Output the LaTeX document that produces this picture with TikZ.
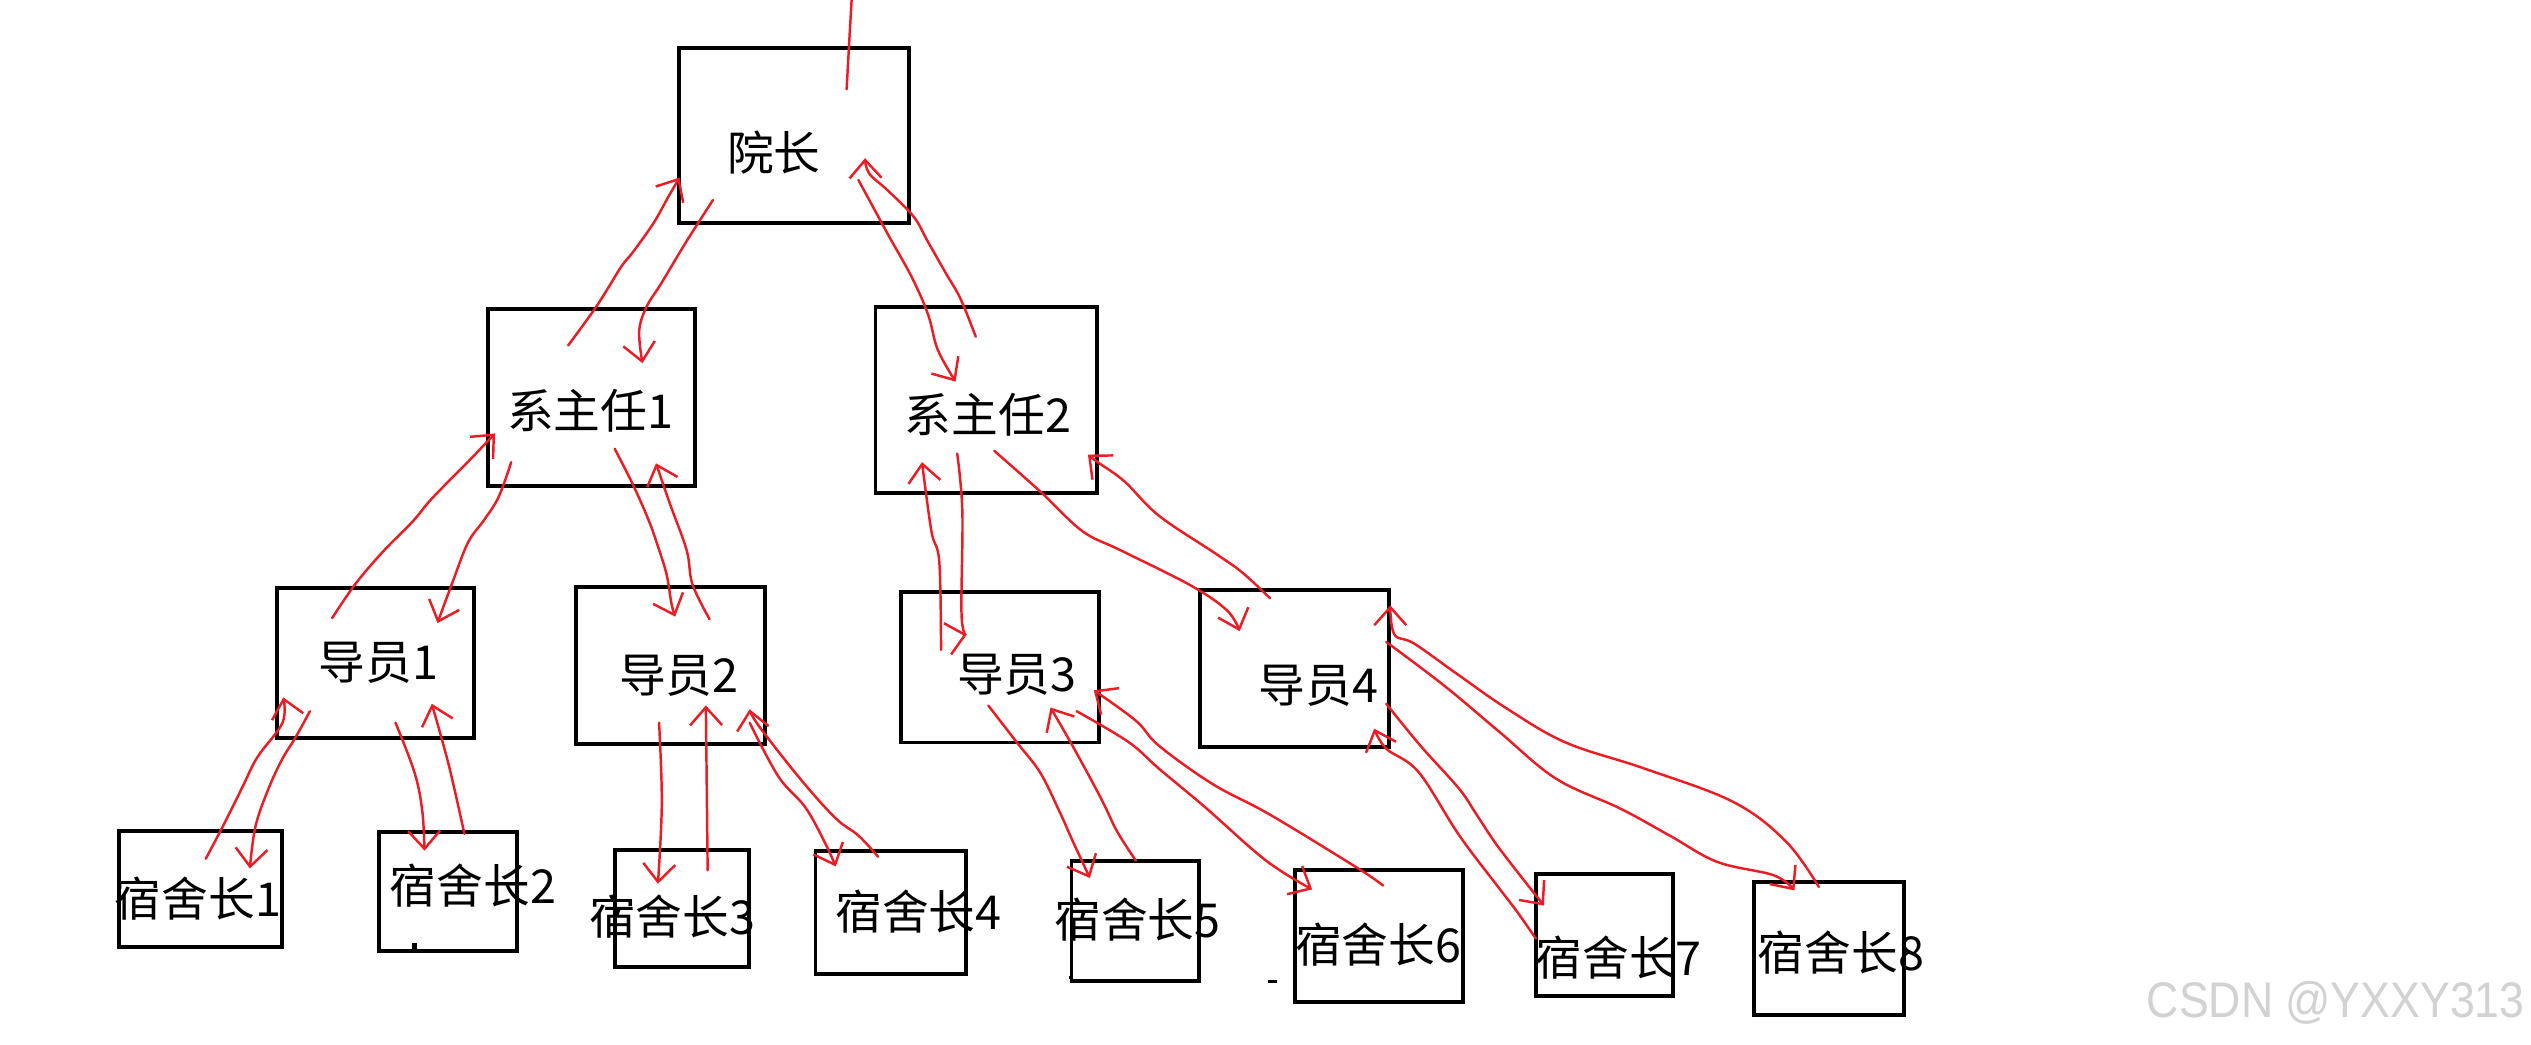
\documentclass[tikz,border=0pt]{standalone}
\usepackage{fontspec}
\setmainfont{Noto Sans CJK SC}
\newfontfamily\wmfont{Liberation Sans}
\usetikzlibrary{fit,arrows.meta}
\definecolor{penred}{RGB}{235,28,36}
\definecolor{wmgray}{RGB}{210,210,210}
\begin{document}
\begin{tikzpicture}[x=0.016142cm,y=-0.016142cm,
  box/.style={draw=black,line width=1.1pt,inner sep=0pt},
  lbl/.style={inner sep=0pt,font=\fontsize{13.3pt}{16pt}\selectfont},
  pen/.style={draw=penred,line width=0.7pt,line cap=round,line join=round},
  tip/.style={-{Straight Barb[length=1.8mm,width=3.2mm]}},
  sm/.style={smooth,tension=0.6}]
\useasboundingbox[fill=white] (0,0) rectangle (1568,646.8);
% boxes
\node[box,fit={(420.7,29.5) (563.4,138)}] (b0) {};
\node[box,fit={(302.5,191.6) (430.7,300.9)}] (b1) {};
\node[box,fit={(542.4,190.2) (679.6,305.2)}] (b2) {};
\node[box,fit={(171.4,364.2) (293.6,457.2)}] (d1) {};
\node[box,fit={(357,363.5) (474.1,460.8)}] (d2) {};
\node[box,fit={(558.2,366.6) (680.9,460)}] (d3) {};
\node[box,fit={(743.4,365.4) (860.7,463)}] (d4) {};
\node[box,fit={(73.9,514.6) (174.9,586.9)}] (s1) {};
\node[box,fit={(234.8,515.4) (320.5,589)}] (s2) {};
\node[box,fit={(381,526.6) (464,599.2)}] (s3) {};
\node[box,fit={(505.2,527.3) (598.5,603.2)}] (s4) {};
\node[box,fit={(663.8,533.2) (742.9,608)}] (s5) {};
\node[box,fit={(802.5,538.8) (906.4,621)}] (s6) {};
\node[box,fit={(951.5,541.3) (1036.6,617)}] (s7) {};
\node[box,fit={(1086.7,546.4) (1179.3,629)}] (s8) {};
% labels
\node[lbl] (t0) at (479.5,94.5) {院长};
\node[lbl] (t1) at (365.6,254.5) {系主任1};
\node[lbl] (t2) at (612,257) {系主任2};
\node[lbl] (u1) at (234.6,410.3) {导员1};
\node[lbl] (u2) at (420.5,418.6) {导员2};
\node[lbl] (u3) at (630,418) {导员3};
\node[lbl] (u4) at (816.8,425) {导员4};
\node[lbl] (r1) at (122.6,556.5) {宿舍长1};
\node[lbl] (r2) at (293,548.6) {宿舍长2};
\node[lbl] (r3) at (416.5,568) {宿舍长3};
\node[lbl] (r4) at (569,564.7) {宿舍长4};
\node[lbl] (r5) at (704.7,569.5) {宿舍长5};
\node[lbl] (r6) at (853.8,585.1) {宿舍长6};
\node[lbl] (r7) at (1002.8,593) {宿舍长7};
\node[lbl] (r8) at (1140.5,590.3) {宿舍长8};
% watermark
\node[inner sep=0pt,text=wmgray,font=\wmfont\fontsize{12.7pt}{15pt}\selectfont] (wm) at (1447,621) {\scalebox{1}[1.12]{CSDN @YXXY313}};
% small marks
\fill (255.5,584.5) rectangle (258.5,588);
\fill (785.6,607.3) rectangle (791.1,609.2);
\fill (662,604.5) rectangle (664,606.5);
% red hand-drawn arrows
\draw[pen] plot[sm] coordinates {(524.5,55.3) (526,28) (527.6,0)};
\draw[pen,tip] plot[sm] coordinates {(352,214) (368,192) (377,178) (385,165) (393,155) (405,138) (414,122) (421,110)};
\draw[pen,tip] plot[sm] coordinates {(441.7,123.9) (425,150) (410,175) (400.6,190) (396,205) (398,225)};
\draw[pen,tip] plot[sm] coordinates {(531.8,111.5) (550,145) (565,172) (575,195) (581,216.8) (592,236.4)};
\draw[pen,tip] plot[sm] coordinates {(604.5,208.6) (595,185) (586,169.3) (575,150) (566,134.2) (550,118) (538.4,107.4) (535.9,98)};
\draw[pen,tip] plot[sm] coordinates {(205.8,382.9) (220,362) (237,342) (255.7,323) (267.5,308.9) (290,286) (306.7,268.5)};
\draw[pen,tip] plot[sm] coordinates {(316.7,286.3) (309,307.7) (300,322) (290,336) (280.6,360) (271,386)};
\draw[pen,tip] plot[sm] coordinates {(380.8,278) (392,300) (401.7,321.9) (407.6,338.5) (413,356) (416,374) (418.3,382)};
\draw[pen,tip] plot[sm] coordinates {(439.6,383.6) (429,362) (425.4,340.9) (415,312) (406.4,287)};
\draw[pen,tip] plot[sm] coordinates {(127.5,532) (139.3,509.5) (150,488) (159.5,469) (175,447.8) (175.5,432)};
\draw[pen,tip] plot[sm] coordinates {(192,440.6) (183,457) (175,470) (166.6,488) (158.3,511.8) (154.8,538)};
\draw[pen,tip] plot[sm] coordinates {(245,447.7) (256.8,478.6) (261.6,502.3) (263,527)};
\draw[pen,tip] plot[sm] coordinates {(287.7,516.6) (278,473.9) (267.5,436)};
\draw[pen,tip] plot[sm] coordinates {(408.3,447.7) (410,497.6) (407.6,547.5)};
\draw[pen,tip] (438.4,539.1) -- (437.3,437);
\draw[pen,tip] plot[sm] coordinates {(464.4,447.7) (482.2,481) (498.8,500) (510.7,521.3) (517.8,536.8)};
\draw[pen,tip] plot[sm] coordinates {(544,530.8) (532,517.8) (517.8,507) (496.5,483.4) (470.3,450) (464.4,439.4)};
\draw[pen,tip] plot[sm] coordinates {(583,402.6) (581.9,348) (577,329) (571.2,286.3)};
\draw[pen,tip] plot[sm] coordinates {(593,281) (596.2,317) (595.7,381) (599,393)};
\draw[pen,tip] plot[sm] coordinates {(615.9,279.2) (645,305) (670.5,329) (694.2,340.9) (737,362.3) (760,378) (768,391)};
\draw[pen,tip] plot[sm] coordinates {(786.8,370.6) (770,355) (753.6,343.3) (718,319.5) (696.6,298.2) (680,286.3) (674,281.6)};
\draw[pen,tip] plot[sm] coordinates {(612.3,437.1) (630,460) (644.4,478.6) (656.2,502.4) (665,522) (675.2,543.9)};
\draw[pen,tip] plot[sm] coordinates {(703.7,533.2) (692,515) (682.4,495.2) (665,463) (650.8,438.3)};
\draw[pen,tip] plot[sm] coordinates {(667,440.6) (699,459.6) (718,476.2) (746.5,500) (784.4,533.2) (812.9,551)};
\draw[pen,tip] plot[sm] coordinates {(856.8,548.6) (841.4,538) (786.8,504.7) (751.2,485.7) (718,462) (703.7,446.5) (677.6,427.6)};
\draw[pen,tip] plot[sm] coordinates {(858.8,436) (880,462) (903.9,488.6) (915,505) (929,525.8) (956.5,561)};
\draw[pen,tip] plot[sm] coordinates {(951.5,581.5) (940,565) (929,550.6) (904,517.5) (878.8,478.3) (858.8,463.8) (851.3,451.4)};
\draw[pen,tip] plot[sm] coordinates {(858.8,397.7) (895,425) (929,453.5) (964,482.4) (1004,501) (1035,518) (1064,534) (1099,542.3) (1111.7,551.6)};
\draw[pen,tip] plot[sm] coordinates {(1126.8,549.5) (1106.7,521.6) (1074,496.9) (1019,476.2) (970,460) (933.6,439) (903.9,418.4) (876.3,398.8) (863.8,393) (861.3,375)};
\end{tikzpicture}
\end{document}
